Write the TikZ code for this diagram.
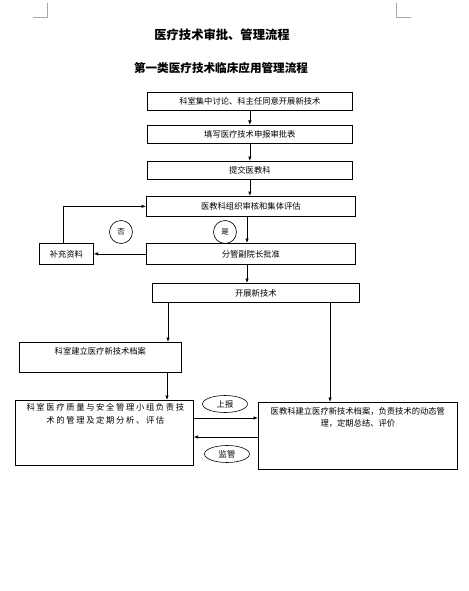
\documentclass[tikz,border=0pt]{standalone}
\usepackage{fontspec}
\setmainfont{Noto Sans CJK SC}
\newfontfamily\cjk{Noto Sans CJK SC}
\newfontfamily\cjkwide[LetterSpace=20]{Noto Sans CJK SC}
\usetikzlibrary{arrows.meta,shapes.geometric,calc}
\begin{document}
\begin{tikzpicture}[x=1pt,y=-1pt,
  box/.style={draw,line width=0.7pt,inner sep=0pt,anchor=north west},
  txt/.style={font=\cjk\fontsize{8.3}{12}\selectfont,inner sep=0pt,align=center},
  arr/.style={line width=0.7pt,-{Latex[length=4.5pt,width=3.5pt]}},
  ln/.style={line width=0.7pt},
  circ/.style={draw,circle,line width=0.6pt,minimum size=23pt,inner sep=0pt,font=\cjk\fontsize{7.5}{9}\selectfont},
  ell/.style={draw,ellipse,line width=0.6pt,minimum width=45pt,minimum height=17pt,inner sep=0pt,font=\cjk\fontsize{8.3}{10}\selectfont},
  crop/.style={draw=gray!70,line width=0.6pt}]
\useasboundingbox (0,0) rectangle (468,591);
\fill[white] (0,0) rectangle (468,591);
% crop marks
\draw[crop] (47,3) -- (47,17) -- (33,17);
\draw[crop] (396,3) -- (396,17) -- (411,17);
% titles
\node[font=\cjk\bfseries\fontsize{12.3}{14}\selectfont,inner sep=0pt] (t1) at (222,35) {医疗技术审批、管理流程};
\node[font=\cjk\bfseries\fontsize{11.6}{14}\selectfont,inner sep=0pt] (t2) at (221,68) {第一类医疗技术临床应用管理流程};
% boxes
\node[box,minimum width=205pt,minimum height=18pt] (b1) at (147,92) {};
\node[txt] (l1) at (b1.center) {科室集中讨论、科主任同意开展新技术};
\node[box,minimum width=205pt,minimum height=18pt] (b2) at (147,125) {};
\node[txt] (l2) at (b2.center) {填写医疗技术申报审批表};
\node[box,minimum width=205pt,minimum height=18pt] (b3) at (147,161) {};
\node[txt] (l3) at (b3.center) {提交医教科};
\node[box,minimum width=209pt,minimum height=20pt] (b4) at (146,196) {};
\node[txt] (l4) at (b4.center) {医教科组织审核和集体评估};
\node[box,minimum width=209pt,minimum height=21pt] (b5) at (146,243) {};
\node[txt] (l5) at (b5.center) {分管副院长批准};
\node[box,minimum width=54pt,minimum height=21pt] (b6) at (39,243) {};
\node[txt] (l6) at (b6.center) {补充资料};
\node[box,minimum width=207pt,minimum height=19pt] (b7) at (152,283) {};
\node[txt] (l7) at (b7.center) {开展新技术};
\node[box,minimum width=162pt,minimum height=30pt] (b8) at (19,342) {};
\node[txt,anchor=north] (l8) at ($(b8.north)+(0,5)$) {科室建立医疗新技术档案};
\node[box,minimum width=178pt,minimum height=65pt] (b9) at (15,400) {};
\node[txt,anchor=north,font=\cjkwide\fontsize{8.3}{13}\selectfont] (l9) at ($(b9.north)+(1,3)$) {科室医疗质量与安全管理小组负责技\\术的管理及定期分析、评估};
\node[box,minimum width=199pt,minimum height=67pt] (b10) at (258,402) {};
\node[txt,anchor=north] (l10) at ($(b10.north)+(0,5)$) {医教科建立医疗新技术档案，负责技术的动态管\\理，定期总结、评价};
% circles and ellipses
\node[circ] (c1) at (121,232) {否};
\node[circ] (c2) at (225,232) {是};
\node[ell] (e1) at (225,404) {上报};
\node[ell] (e2) at (227,454) {监管};
% connectors
\draw[arr] (b1.south) -- (b2.north);
\draw[arr] (b2.south) -- (b3.north);
\draw[arr] (b3.south) -- (b3.south |- b4.north);
\coordinate (q1) at ($(b4.south west)+(101,0)$);
\draw[arr] (q1) -- (q1 |- b5.north);
\coordinate (q2) at ($(b5.south west)+(101,0)$);
\draw[arr] (q2) -- (q2 |- b7.north);
\draw[arr] (b5.west) -- (b6.east);
\coordinate (q3) at ($(b6.north west)+(24,0)$);
\draw[arr] (q3) |- (b4.west);
\coordinate (p1) at ($(b7.south west)+(16,0)$);
\draw[arr] (p1) -- (p1 |- b8.north);
\coordinate (p2) at ($(b7.south west)+(178,0)$);
\draw[arr] (p2) -- (p2 |- b10.north);
\coordinate (p3) at ($(b8.south west)+(148,0)$);
\draw[arr] (p3) -- (p3 |- b9.north);
\coordinate (p4) at ($(b9.north east)+(0,18)$);
\draw[arr] (p4) -- (p4 -| b10.west);
\coordinate (p5) at ($(b10.north west)+(0,35)$);
\draw[arr] (p5) -- (p5 -| b9.east);
\end{tikzpicture}
\end{document}
